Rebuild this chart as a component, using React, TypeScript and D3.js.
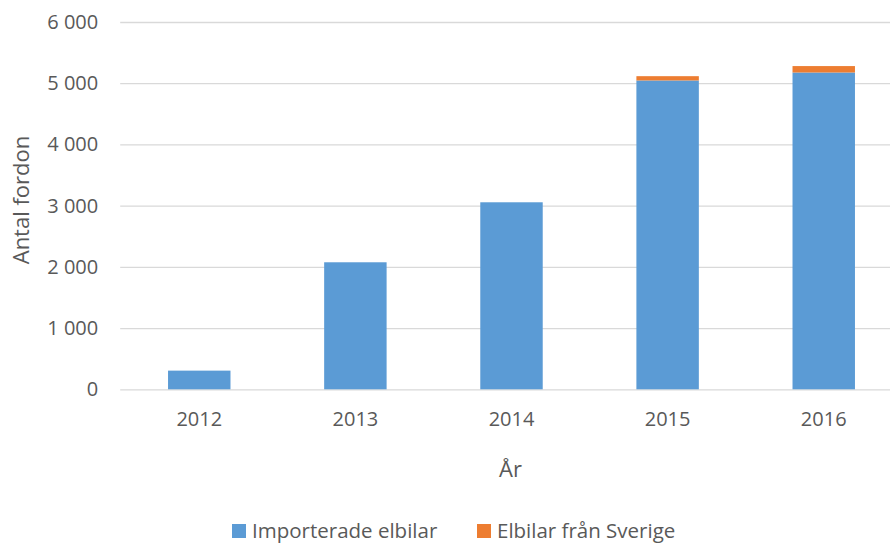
import React, { useEffect, useRef } from "react";
import * as d3 from "d3";

const years = ["2012", "2013", "2014", "2015", "2016"];
const importerade = [305, 2075, 3055, 5045, 5175];
const franSverige = [0, 0, 0, 70, 105];
const seriesNames = ["Importerade elbilar", "Elbilar från Sverige"];
const yTicks = [0, 1000, 2000, 3000, 4000, 5000, 6000];

const colors = ["#5B9BD5", "#ED7D31"];
const textColor = "#595959";
const font = "'Open Sans', sans-serif";

export default function App() {
  const svgRef = useRef<SVGSVGElement>(null);

  useEffect(() => {
    const width = 890;
    const height = 543;
    const left = 121.2;
    const right = 901.8;
    const top = 22;
    const bottom = 389.3;

    const svg = d3.select(svgRef.current)
      .attr("width", width)
      .attr("height", height);
    svg.selectAll("*").remove();

    const rows = years.map((y, i) => ({
      year: y,
      imp: importerade[i],
      swe: franSverige[i],
    }));

    const stack = d3.stack<any>().keys(["imp", "swe"]);
    const stacked = stack(rows);

    const xScale = d3.scaleBand()
      .domain(years)
      .range([left, right])
      .paddingInner(0.6)
      .paddingOuter(0.3);

    const yScale = d3.scaleLinear()
      .domain([0, 6000])
      .range([bottom, top]);

    const locale = d3.formatLocale({
      decimal: ",",
      thousands: " ",
      grouping: [3],
      currency: ["", ""],
    });
    const fmt = locale.format(",d");

    // gridlines + y labels
    const yAxis = d3.axisLeft(yScale)
      .tickValues(yTicks)
      .tickFormat((d: any) => fmt(d))
      .tickSizeInner(-(width - left + 1))
      .tickSizeOuter(0)
      .tickPadding(22);

    const gy = svg.append("g")
      .attr("transform", `translate(${left - 1}, 0)`)
      .call(yAxis);
    gy.select(".domain").remove();
    gy.selectAll(".tick line")
      .attr("stroke", "#D9D9D9")
      .attr("stroke-width", 1.3);
    gy.selectAll(".tick text")
      .attr("fill", textColor)
      .style("font-family", font)
      .style("font-size", "20px");

    // bars
    svg.append("g")
      .selectAll("g")
      .data(stacked)
      .join("g")
      .attr("fill", (d, i) => colors[i])
      .selectAll("rect")
      .data((d) => d)
      .join("rect")
      .attr("x", (d: any) => xScale(d.data.year)!)
      .attr("y", (d) => yScale(d[1]))
      .attr("width", xScale.bandwidth())
      .attr("height", (d) => yScale(d[0]) - yScale(d[1]));

    // x axis
    const xAxis = d3.axisBottom(xScale)
      .tickSize(0)
      .tickPadding(23);
    const gx = svg.append("g")
      .attr("transform", `translate(0, ${bottom})`)
      .call(xAxis);
    gx.select(".domain").remove();
    gx.selectAll(".tick text")
      .attr("fill", textColor)
      .style("font-family", font)
      .style("font-size", "20px");

    // axis titles
    svg.append("text")
      .attr("x", (left + right) / 2 - 1)
      .attr("y", 477)
      .attr("text-anchor", "middle")
      .attr("fill", textColor)
      .style("font-family", font)
      .style("font-size", "22px")
      .text("År");

    svg.append("text")
      .attr("transform", "rotate(-90)")
      .attr("x", -200)
      .attr("y", 29)
      .attr("text-anchor", "middle")
      .attr("fill", textColor)
      .style("font-family", font)
      .style("font-size", "22px")
      .text("Antal fordon");

    // legend
    const legendX = [232, 477];
    const lg = svg.append("g")
      .selectAll("g")
      .data(seriesNames)
      .join("g")
      .attr("transform", (d, i) => `translate(${legendX[i]}, 524)`);
    lg.append("rect")
      .attr("width", 14)
      .attr("height", 14)
      .attr("fill", (d, i) => colors[i]);
    lg.append("text")
      .attr("x", 20)
      .attr("y", 13.5)
      .attr("fill", textColor)
      .style("font-family", font)
      .style("font-size", "20.5px")
      .text((d) => d);
  }, []);

  return (
    <div style={{ position: "absolute", left: 0, top: 0 }}>
      <svg ref={svgRef} style={{ display: "block", background: "#fff" }}></svg>
    </div>
  );
}
